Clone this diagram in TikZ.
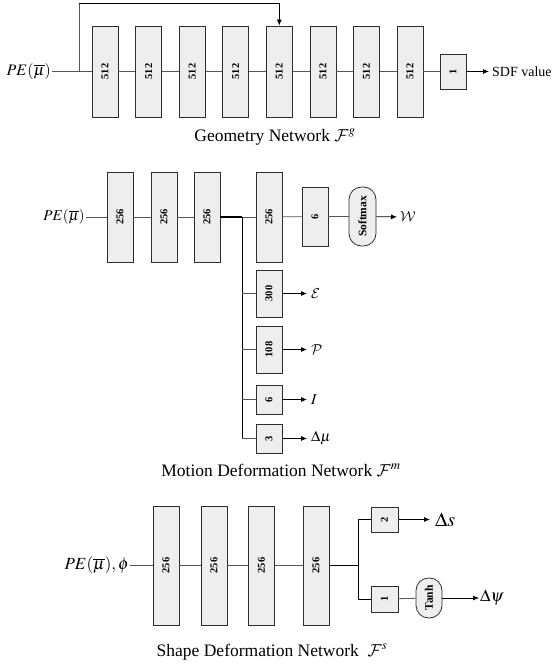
\documentclass[tikz,border=0pt]{standalone}
\usepackage{mathptmx}
\usepackage[no-math]{fontspec}
\setmainfont{Liberation Serif}
\usepackage{graphicx}
\usetikzlibrary{arrows.meta}

\DeclareMathAlphabet{\mathcal}{OMS}{cmsy}{m}{n}

\definecolor{boxfill}{RGB}{238,238,238}
\definecolor{boxline}{RGB}{45,45,45}
\definecolor{wirecol}{RGB}{85,85,85}

\newcommand{\vlab}[1]{\rotatebox{90}{#1}}
\newcommand{\fs}[1]{\fontsize{#1}{#1}\selectfont}

\tikzset{
  layer/.style={draw=boxline, fill=boxfill, line width=0.8pt, inner sep=0pt,
                minimum width=26pt, font=\fs{10.5}\bfseries},
  act/.style={layer, rounded corners=12.5pt, font=\fs{11.5}\bfseries},
  wire/.style={draw=wirecol, line width=0.8pt},
  trunk/.style={draw=black, line width=1.1pt},
  arr/.style={draw=black, line width=0.8pt, -{Latex[length=6pt,width=5pt]}},
  mlab/.style={inner sep=1pt, font=\fs{15}},
  title/.style={inner sep=0pt, font=\fs{17.5}},
}

\begin{document}
\begin{tikzpicture}[x=1pt, y=-1pt]
\useasboundingbox (0,0) rectangle (555,671);

% ---------------- geometry network ----------------
\node[mlab, anchor=east, font=\fs{16}] (gin) at (52,71.5) {$PE(\overline{\mu})$};
\foreach \i/\x in {1/105,2/148.6,3/192.1,4/235.7,5/279.3,6/322.9,7/366.4,8/410}
  \node[layer, minimum height=91pt] (g\i) at (\x,71.5) {\vlab{512}};
\node[layer, minimum height=35pt] (g9) at (453,71.5) {\vlab{1}};
\node[anchor=west, inner sep=3pt, font=\fs{14}] (sdf) at (489,71.5) {SDF value};

\draw[wire] (gin) -- (g1);
\foreach \i [evaluate=\i as \j using int(\i+1)] in {1,...,8}
  \draw[wire] (g\i) -- (g\j);
\draw[arr] (g9) -- (sdf);

\coordinate (gskip) at (79,71.5);
\coordinate (gtop) at (79,3.5);
\draw[wire] (gskip) -- (gtop);
\draw[arr] (gtop) -| (g5.north);

\node[title] (gtitle) at (275,137) {Geometry Network $\mathcal{F}^{g}$};

% ---------------- motion deformation network ----------------
\node[mlab, anchor=east] (min) at (86,217) {$PE(\overline{\mu})$};
\foreach \i/\x in {1/120,2/164,3/207,4/269}
  \node[layer, minimum height=90pt] (m\i) at (\x,217) {\vlab{256}};
\node[layer, minimum height=59pt] (m5) at (315,216.5) {\vlab{6}};
\node[act, minimum width=27pt, minimum height=59pt] (soft) at (362.5,216.5) {\vlab{Softmax}};
\node[mlab, anchor=west, inner sep=3pt] (wout) at (397,217) {$\mathcal{W}$};

\node[layer, minimum height=47pt] (b1) at (269,293.5) {\vlab{300}};
\node[layer, minimum height=47pt] (b2) at (269,349.5) {\vlab{108}};
\node[layer, minimum height=29pt] (b3) at (269,399.5) {\vlab{6}};
\node[layer, minimum height=29pt] (b4) at (269,438.5) {\vlab{3}};

\node[mlab, anchor=west, inner sep=4pt] (e1) at (307,293.5) {$\mathcal{E}$};
\node[mlab, anchor=west, inner sep=4pt] (e2) at (307,349.5) {$\mathcal{P}$};
\node[mlab, anchor=west, inner sep=4pt] (e3) at (307,399.5) {$I$};
\node[mlab, anchor=west, inner sep=4pt] (e4) at (307,438.5) {$\Delta\mu$};

\coordinate (mb) at (242,217);
\coordinate (mbend) at (242,438.5);

\draw[wire] (min) -- (m1);
\draw[wire] (m1) -- (m2);
\draw[wire] (m2) -- (m3);
\draw[trunk] (m3) -- (mb);
\draw[wire] (mb) -- (m4);
\draw[wire] (m4) -- (m5);
\draw[wire] (m5) -- (soft);
\draw[arr] (soft) -- (wout);

\draw[draw=black, line width=0.9pt] (mb) -- (mbend);
\foreach \k in {1,2,3}
  \draw[wire] (mb |- b\k) -- (b\k);
\draw[wire] (mbend) -- (b4);
\foreach \k in {1,...,4}
  \draw[arr] (b\k) -- (e\k);

\node[title] (mtitle) at (281,470) {Motion Deformation Network $\mathcal{F}^{m}$};

% ---------------- shape deformation network ----------------
\node[mlab, anchor=east, font=\fs{17}] (sin) at (130,565.5) {$PE(\overline{\mu}),\phi$};
\foreach \i/\x in {1/166,2/214,3/261.5,4/316}
  \node[layer, minimum height=119pt] (s\i) at (\x,565.5) {\vlab{256}};
\node[layer, minimum width=27pt, minimum height=25pt] (o1) at (384.5,519.5) {\vlab{2}};
\node[layer, minimum width=27pt, minimum height=26pt] (o2) at (384.5,599) {\vlab{1}};
\node[act, minimum height=40pt, rounded corners=12.5pt] (tanh) at (429,598) {\vlab{Tanh}};
\node[mlab, anchor=west, inner sep=5pt, font=\fs{20}] (ds) at (430,519.5) {$\Delta s$};
\node[mlab, anchor=west, inner sep=1pt, font=\fs{17}] (dpsi) at (479,598) {$\Delta\psi$};

\coordinate (sb) at (358,565.5);

\draw[wire] (sin) -- (s1);
\draw[wire] (s1) -- (s2);
\draw[wire] (s2) -- (s3);
\draw[wire] (s3) -- (s4);
\draw[trunk] (s4) -- (sb);
\draw[draw=black, line width=0.9pt] (sb) |- (o1);
\draw[draw=black, line width=0.9pt] (sb) |- (o2);
\draw[wire] (o2) -- (tanh);
\draw[arr] (o1) -- (ds);
\draw[arr] (tanh) -- (dpsi);

\node[title] (stitle) at (272,652) {Shape Deformation Network~~$\mathcal{F}^{s}$};
\end{tikzpicture}
\end{document}
